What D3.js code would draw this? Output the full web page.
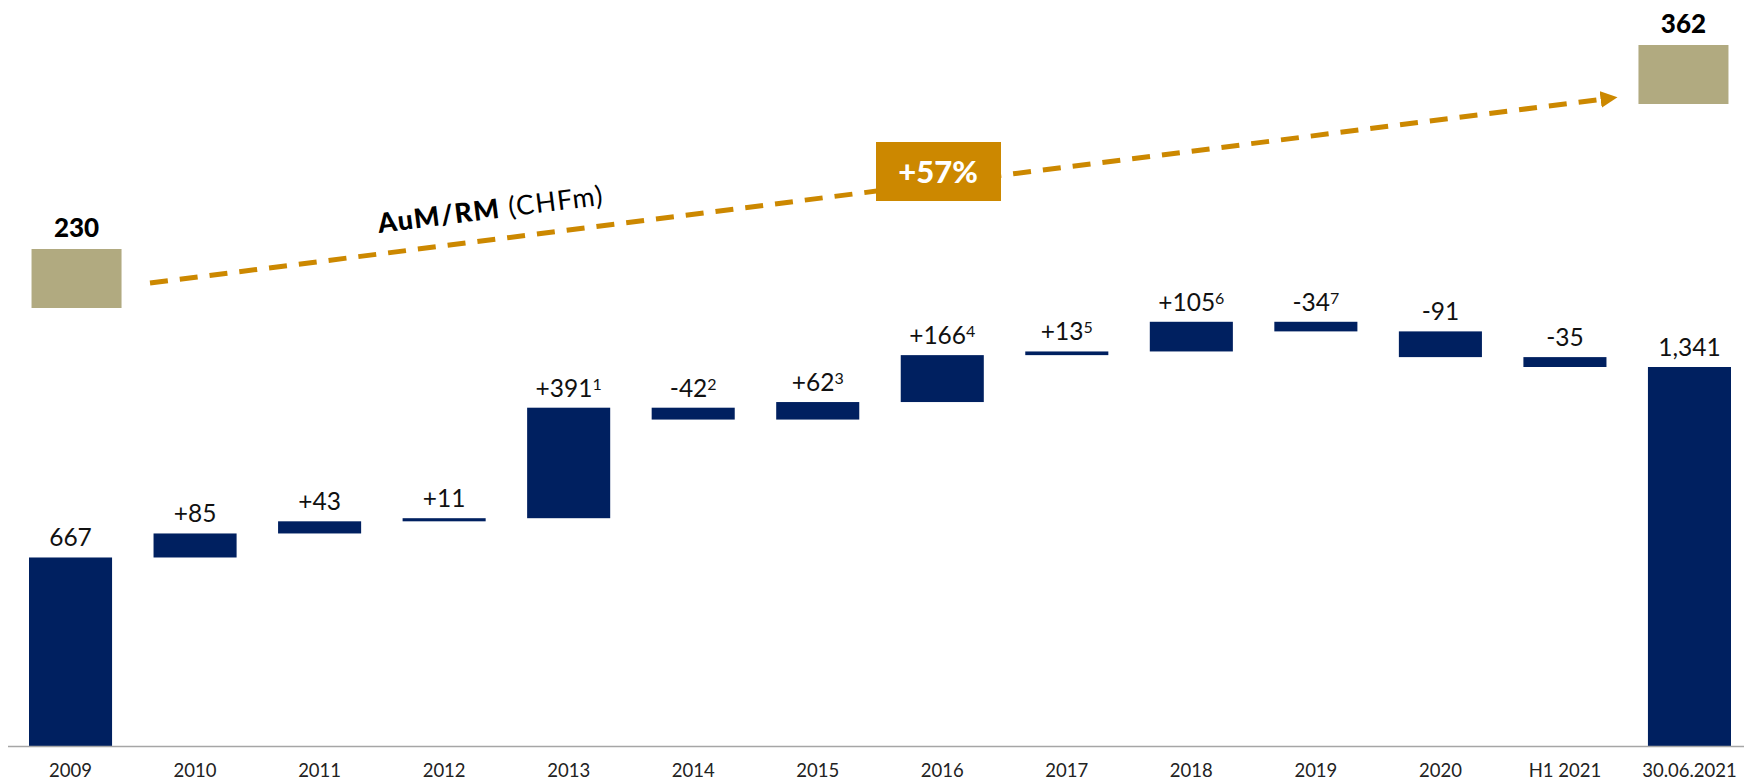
<!DOCTYPE html>
<html>
<head>
<meta charset="utf-8">
<script src="https://cdn.jsdelivr.net/npm/d3@7"></script>
<style>
  body { margin: 0; background: #fff; }
  text { font-family: Lato, "Open Sans", sans-serif; }
</style>
</head>
<body>
<div id="chart"></div>
<script>
// waterfall data
var categories = ["2009","2010","2011","2012","2013","2014","2015","2016","2017","2018","2019","2020","H1 2021","30.06.2021"];
var values = [667, 85, 43, 11, 391, -42, 62, 166, 13, 105, -34, -91, -35, 1341];
var valueLabels = ["667","+85","+43","+11","+391","-42","+62","+166","+13","+105","-34","-91","-35","1,341"];
var footnotes = ["","","","","1","2","3","4","5","6","7","","",""];
var isTotal = [true,false,false,false,false,false,false,false,false,false,false,false,false,true];

// AuM per RM annotation
var aumLabels = ["230", "362"];
var growthLabel = "+57%";

var width = 1744;
var height = 780;
var navy = "#002060";
var gold = "#b1aa80";
var orange = "#cc8800";

var svg = d3.select("#chart")
    .append("svg")
    .attr("width", width)
    .attr("height", height);

var x = d3.scaleBand()
    .domain(categories)
    .range([29, 1731])
    .paddingInner(0.333)
    .paddingOuter(0);

var y = d3.scaleLinear()
    .domain([0, 1341])
    .range([746, 367]);

// running totals
var run = 0;
var bars = categories.map(function(c, i) {
    var start, end;
    if (isTotal[i]) { start = 0; end = values[i]; run = values[i]; }
    else { start = run; end = run + values[i]; run = end; }
    return {cat: c, lo: Math.min(start, end), hi: Math.max(start, end), label: valueLabels[i], note: footnotes[i]};
});

svg.append("g")
  .selectAll("rect")
  .data(bars)
  .join("rect")
    .attr("x", d => x(d.cat))
    .attr("y", d => y(d.hi))
    .attr("width", x.bandwidth())
    .attr("height", d => Math.max(2, y(d.lo) - y(d.hi)))
    .attr("fill", navy);

// baseline
svg.append("line")
    .attr("x1", 8).attr("x2", width)
    .attr("y1", y(0) + 0.5).attr("y2", y(0) + 0.5)
    .attr("stroke", "#a6a6a6")
    .attr("stroke-width", 1.5);

// value labels
var lab = svg.append("g")
  .selectAll("text")
  .data(bars)
  .join("text")
    .attr("x", d => x(d.cat) + x.bandwidth() / 2)
    .attr("y", d => y(d.hi) - 11)
    .attr("text-anchor", "middle")
    .attr("font-size", 24.5)
    .attr("fill", "#111");
lab.append("tspan").text(d => d.label);
lab.append("tspan")
    .text(d => d.note)
    .attr("font-size", 16)
    .attr("dy", -7);

// x axis labels
svg.append("g")
  .selectAll("text")
  .data(categories)
  .join("text")
    .attr("x", d => x(d) + x.bandwidth() / 2)
    .attr("y", 777)
    .attr("text-anchor", "middle")
    .attr("font-size", 18.5)
    .attr("fill", "#222")
    .text(d => d);

// AuM/RM boxes
var first = categories[0], last = categories[categories.length - 1];
var boxes = [
  {cx: x(first) + x.bandwidth() / 2 + 6, top: 249, label: aumLabels[0]},
  {cx: x(last) + x.bandwidth() / 2 - 6, top: 45, label: aumLabels[1]}
];
svg.append("g").selectAll("rect")
  .data(boxes)
  .join("rect")
    .attr("x", d => d.cx - 45)
    .attr("y", d => d.top)
    .attr("width", 90)
    .attr("height", 59)
    .attr("fill", gold);
svg.append("g").selectAll("text")
  .data(boxes)
  .join("text")
    .attr("x", d => d.cx)
    .attr("y", d => d.top - 12)
    .attr("text-anchor", "middle")
    .attr("font-size", 26)
    .attr("font-weight", 900)
    .attr("fill", "#000")
    .text(d => d.label);

// dashed arrow
svg.append("defs").append("marker")
    .attr("id", "arrow")
    .attr("viewBox", "0 0 10 10")
    .attr("refX", 2).attr("refY", 5)
    .attr("markerWidth", 3.4).attr("markerHeight", 3.4)
    .attr("orient", "auto")
  .append("path")
    .attr("d", "M0,0 L10,5 L0,10 z")
    .attr("fill", orange);

var a0 = [150, 283], a1 = [1604, 99];
svg.append("line")
    .attr("x1", a0[0]).attr("y1", a0[1])
    .attr("x2", a1[0]).attr("y2", a1[1])
    .attr("stroke", orange)
    .attr("stroke-width", 5)
    .attr("stroke-dasharray", "18,12")
    .attr("marker-end", "url(#arrow)");

var angle = Math.atan2(a1[1] - a0[1], a1[0] - a0[0]) * 180 / Math.PI;

// growth box
svg.append("rect")
    .attr("x", 876).attr("y", 142)
    .attr("width", 125).attr("height", 59)
    .attr("fill", orange);
svg.append("text")
    .attr("x", 938).attr("y", 183)
    .attr("text-anchor", "middle")
    .attr("font-size", 31)
    .attr("font-weight", 900)
    .attr("fill", "#fff")
    .text(growthLabel);

// series title along the arrow
var t = svg.append("text")
    .attr("transform", "translate(379,233) rotate(" + angle + ")")
    .attr("font-size", 27)
    .attr("fill", "#000")
    .attr("letter-spacing", 1.3);
t.append("tspan").attr("font-weight", 900).text("AuM/RM");
t.append("tspan").text(" (CHFm)");
</script>
</body>
</html>
